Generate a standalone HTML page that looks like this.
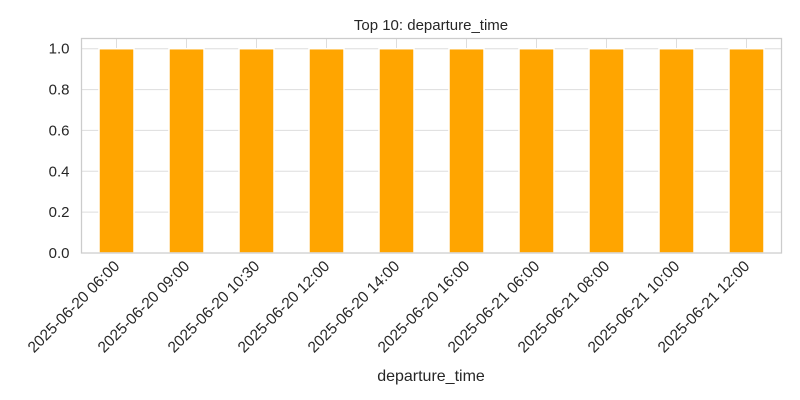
<!DOCTYPE html>
<html><head><meta charset="utf-8"><style>body{margin:0;background:#fff}svg{display:block;font-family:"Liberation Sans",sans-serif}</style></head>
<body>
<svg id="chart" width="800" height="400" xmlns="http://www.w3.org/2000/svg">
<rect width="800" height="400" fill="#fff"/>
<text x="431" y="30" text-anchor="middle" font-size="15" fill="#262626">Top 10: departure_time</text>
<g id="grid"></g><g id="bars"></g><g id="ticks"></g>
<rect x="81.5" y="38.5" width="700" height="214.5" fill="none" stroke="#cccccc" stroke-width="1.25"/>
<text x="431" y="381" text-anchor="middle" font-size="16" fill="#262626">departure_time</text>
</svg>
<script>
const categories=["2025-06-20 06:00","2025-06-20 09:00","2025-06-20 10:30","2025-06-20 12:00","2025-06-20 14:00","2025-06-20 16:00","2025-06-21 06:00","2025-06-21 08:00","2025-06-21 10:00","2025-06-21 12:00"];
const counts=[1,1,1,1,1,1,1,1,1,1];
const yTicks=[0,0.2,0.4,0.6,0.8,1.0];
const yTickLabels=["0.0","0.2","0.4","0.6","0.8","1.0"];
const NS="http://www.w3.org/2000/svg";
const L=81.5,R=781.5,T=38.5,B=253,yMax=1.05;
const y=v=>B-(v/yMax)*(B-T);
const band=(R-L)/categories.length;
const x=i=>L+band*(i+0.5);
function mk(tag,attrs,parent){const e=document.createElementNS(NS,tag);for(const k in attrs)e.setAttribute(k,attrs[k]);document.getElementById(parent).appendChild(e);return e;}
yTicks.forEach((t,i)=>{
  const g=mk('line',{x1:L,x2:R,y1:y(t),y2:y(t),stroke:'#dddddd','stroke-width':1},'grid');
  
  
  const tx=mk('text',{x:L-12,y:y(t)+5,'text-anchor':'end','font-size':15,fill:'#262626'},'ticks');
  tx.textContent=yTickLabels[i];
  
  
});
categories.forEach((c,i)=>{
  const g=mk('line',{x1:x(i),x2:x(i),y1:T,y2:B,stroke:'#dddddd','stroke-width':1},'grid');
  
  
  const w=band*0.5;
  const b=mk('rect',{x:x(i)-w/2,y:y(counts[i]),width:w,height:B-y(counts[i]),fill:'#ffa500',stroke:'#fff','stroke-width':1.5},'bars');
  
  
  const t=mk('text',{x:0,y:0,'text-anchor':'end','font-size':15.5,fill:'#262626',transform:`translate(${x(i)+4},${B+14}) rotate(-45)`},'ticks');
  t.textContent=c;
  
  
});
</script>
</body></html>
